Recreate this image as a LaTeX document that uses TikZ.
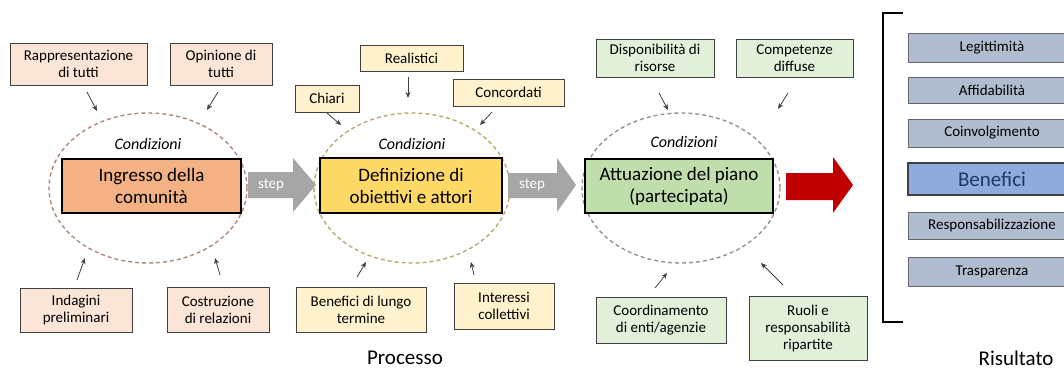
\documentclass[tikz,border=0pt]{standalone}
\usepackage{fontspec}
\setmainfont{Carlito}
\usetikzlibrary{arrows.meta,shapes.geometric}
\definecolor{peachL}{HTML}{FBE5D6}
\definecolor{peachM}{HTML}{F4B183}
\definecolor{yelL}{HTML}{FFF2CC}
\definecolor{yelM}{HTML}{FFD966}
\definecolor{grnL}{HTML}{E2F0D9}
\definecolor{grnM}{HTML}{C0DDAC}
\definecolor{resC}{HTML}{B0BCCF}
\definecolor{benC}{HTML}{8FAADC}
\definecolor{benT}{HTML}{1F3864}
\definecolor{stepC}{HTML}{A6A6A6}
\definecolor{redC}{HTML}{C00000}
\definecolor{ell1}{HTML}{B08A78}
\definecolor{ell2}{HTML}{BCAA70}
\definecolor{ell3}{HTML}{959595}
\definecolor{arrC}{HTML}{404040}
\tikzset{
  smallbox/.style={draw=arrC, line width=1pt, inner sep=0pt, align=center, font=\fontsize{15}{17}\selectfont},
  mainbox/.style={draw=black, line width=1.8pt, inner sep=0pt, align=center, font=\fontsize{19}{22}\selectfont},
  resbox/.style={draw=arrC!80, line width=1pt, fill=resC, inner sep=0pt, font=\fontsize{15}{17}\selectfont},
  condell/.style={draw, dashed, dash pattern=on 4pt off 3pt, line width=1.4pt},
  cond/.style={font=\fontsize{16}{18}\selectfont\itshape},
  arr/.style={draw=arrC, line width=0.8pt, -{Stealth[length=6pt,width=5pt]}},
  steptxt/.style={text=white, font=\fontsize{15}{17}\selectfont},
  bigtxt/.style={font=\fontsize{21}{24}\selectfont}
}
\begin{document}
\begin{tikzpicture}[x=1pt,y=-1pt]
\useasboundingbox[fill=white] (0,0) rectangle (1064,372);

% ---------- group 1 ----------
\node[condell, draw=ell1, minimum width=198pt, minimum height=150pt, ellipse, inner sep=0pt] (e1) at (148,188) {};
\node[cond] (c1) at (148,144) {Condizioni};
\node[mainbox, fill=peachM, minimum width=179pt, minimum height=54pt] (m1) at (151.5,186) {Ingresso della\\comunità};
\node[smallbox, fill=peachL, minimum width=137pt, minimum height=42pt] (a1) at (78.5,64) {Rappresentazione\\di tutti};
\node[smallbox, fill=peachL, minimum width=102pt, minimum height=42pt] (a2) at (221,64) {Opinione di\\tutti};
\node[smallbox, fill=peachL, minimum width=112pt, minimum height=44pt] (a3) at (76,310) {Indagini\\preliminari};
\node[smallbox, fill=peachL, minimum width=102pt, minimum height=45pt] (a4) at (218,309.5) {Costruzione\\di relazioni};
\coordinate (a1s) at (87,92);  \coordinate (a1e) at (97,111);
\coordinate (a2s) at (218,92); \coordinate (a2e) at (207,110);
\coordinate (a3s) at (77,280); \coordinate (a3e) at (85,258);
\coordinate (a4s) at (220,275);\coordinate (a4e) at (215,258);
\draw[arr] (a1s) -- (a1e);
\draw[arr] (a2s) -- (a2e);
\draw[arr] (a3s) -- (a3e);
\draw[arr] (a4s) -- (a4e);

% step arrow 1
\fill[stepC] (248,172) -- (293,172) -- (293,158) -- (316,185) -- (293,212) -- (293,198) -- (248,198) -- cycle;
\node[steptxt] (s1) at (271,185) {step};

% ---------- group 2 ----------
\node[condell, draw=ell2, minimum width=196pt, minimum height=150pt, ellipse, inner sep=0pt] (e2) at (412,188) {};
\node[cond] (c2) at (412,144) {Condizioni};
\node[mainbox, fill=yelM, minimum width=182pt, minimum height=55pt] (m2) at (411,185.5) {Definizione di\\obiettivi e attori};
\node[smallbox, fill=yelL, minimum width=103pt, minimum height=26pt] (b1) at (411.5,58) {Realistici};
\node[smallbox, fill=yelL, minimum width=64pt, minimum height=27pt] (b2) at (327,98.5) {Chiari};
\node[smallbox, fill=yelL, minimum width=111pt, minimum height=27pt] (b3) at (508.5,92.5) {Concordati};
\node[smallbox, fill=yelL, minimum width=130pt, minimum height=45pt] (b4) at (361,309.5) {Benefici di lungo\\termine};
\node[smallbox, fill=yelL, minimum width=100pt, minimum height=46pt] (b5) at (504,306) {Interessi\\collettivi};
\coordinate (b1s) at (408,77);  \coordinate (b1e) at (408,98);
\coordinate (b2s) at (327,113); \coordinate (b2e) at (341,125);
\coordinate (b3s) at (492,112); \coordinate (b3e) at (480,125);
\coordinate (b4s) at (357,277); \coordinate (b4e) at (366,262);
\coordinate (b5s) at (474,275); \coordinate (b5e) at (471,262);
\draw[arr] (b1s) -- (b1e);
\draw[arr] (b2s) -- (b2e);
\draw[arr] (b3s) -- (b3e);
\draw[arr] (b4s) -- (b4e);
\draw[arr] (b5s) -- (b5e);

% step arrow 2
\fill[stepC] (508,173) -- (557,173) -- (557,158) -- (576,185) -- (557,212) -- (557,198) -- (508,198) -- cycle;
\node[steptxt] (s2) at (532,185) {step};

% ---------- group 3 ----------
\node[condell, draw=ell3, minimum width=198pt, minimum height=150pt, ellipse, inner sep=0pt] (e3) at (681,188) {};
\node[cond] (c3) at (684,142) {Condizioni};
\node[mainbox, fill=grnM, minimum width=188pt, minimum height=54pt] (m3) at (679,186) {Attuazione del piano\\(partecipata)};
\node[smallbox, fill=grnL, minimum width=118pt, minimum height=38pt] (g1) at (655,58) {Disponibilità di\\risorse};
\node[smallbox, fill=grnL, minimum width=117pt, minimum height=38pt] (g2) at (794.5,58) {Competenze\\diffuse};
\node[smallbox, fill=grnL, minimum width=130pt, minimum height=46pt] (g3) at (661,320) {Coordinamento\\di enti/agenzie};
\node[smallbox, fill=grnL, minimum width=118pt, minimum height=64pt] (g4) at (808,328) {Ruoli e\\responsabilità\\ripartite};
\coordinate (g1s) at (659,93);  \coordinate (g1e) at (668,110);
\coordinate (g2s) at (788,93);  \coordinate (g2e) at (778,109);
\coordinate (g3s) at (655,288); \coordinate (g3e) at (667,273);
\coordinate (g4s) at (783,285); \coordinate (g4e) at (761,263);
\draw[arr] (g1s) -- (g1e);
\draw[arr] (g2s) -- (g2e);
\draw[arr] (g3s) -- (g3e);
\draw[arr] (g4s) -- (g4e);

% red arrow
\fill[redC] (786,173) -- (833,173) -- (833,157) -- (853,185) -- (833,213) -- (833,200) -- (786,200) -- cycle;

% ---------- result ----------
\draw[line width=2pt, line cap=butt] (903,13) -- (883,13) -- (883,322) -- (903,322);
\node[resbox, minimum width=168pt, minimum height=29pt] (r1) at (992,47.5) {Legittimità};
\node[resbox, minimum width=168pt, minimum height=26pt] (r2) at (992,90) {Affidabilità};
\node[resbox, minimum width=168pt, minimum height=28pt] (r3) at (992,133) {Coinvolgimento};
\node[resbox, draw=arrC, line width=1.6pt, fill=benC, text=benT, font=\fontsize{21}{24}\selectfont, minimum width=168pt, minimum height=32pt] (r4) at (992,179) {Benefici};
\node[resbox, minimum width=168pt, minimum height=27pt] (r5) at (992,225.5) {Responsabilizzazione};
\node[resbox, minimum width=168pt, minimum height=29pt] (r6) at (992,271.5) {Trasparenza};

\node[bigtxt] (proc) at (405,358) {Processo};
\node[bigtxt] (ris) at (1016,358) {Risultato};
\end{tikzpicture}
\end{document}
